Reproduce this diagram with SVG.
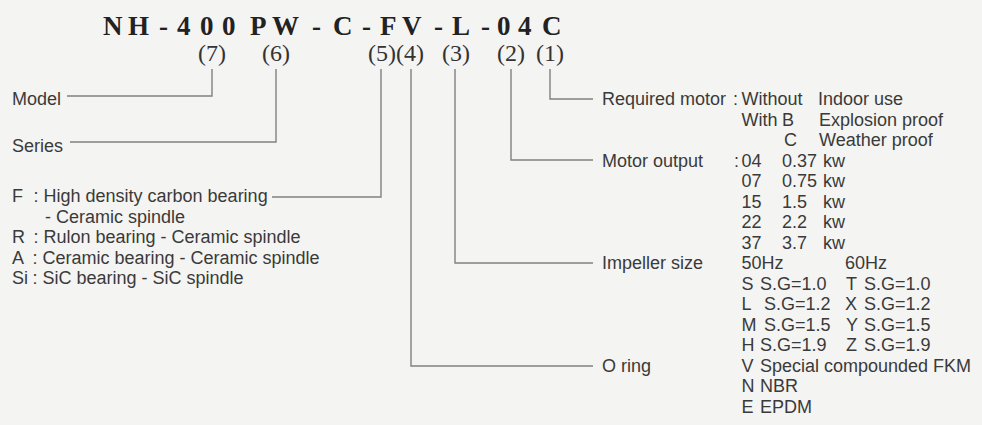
<svg xmlns="http://www.w3.org/2000/svg" width="982" height="425" viewBox="0 0 982 425">
<style>
.t{font-family:"Liberation Sans",Arial,sans-serif;font-size:18px;fill:#3a3a3a}
.code{font-family:"Liberation Serif","Times New Roman",serif;font-size:27px;font-weight:bold;fill:#222}
.num{font-family:"Liberation Serif","Times New Roman",serif;font-size:24px;fill:#333;text-anchor:middle}
.ln{fill:none;stroke:#808080;stroke-width:1.4}
</style>
<rect width="982" height="425" fill="#f4f4f2"/>
<g id="title">
<text class="code" y="35" x="103 123 128 150 159 168 177 192 200 214 222 237 250 267 272 302 312 322 333 353 362 371 380 396 402 423 434 443 452 468 481 490 497 511 518 532 542">N H - 4 0 0 P W - C - F V - L - 0 4 C</text>
</g>
<g id="position-numbers">
<text class="num" x="212" y="61">(7)</text>
<text class="num" x="276" y="61">(6)</text>
<text class="num" x="396" y="61">(5)(4)</text>
<text class="num" x="456" y="61">(3)</text>
<text class="num" x="511" y="61">(2)</text>
<text class="num" x="550" y="61">(1)</text>
</g>
<g id="connectors">
<polyline class="ln" points="212,69 212,96 67,96"/>
<polyline class="ln" points="276,69 276,142 70,142"/>
<polyline class="ln" points="381,69 381,197 272,197"/>
<polyline class="ln" points="411,69 411,366 593,366"/>
<polyline class="ln" points="455,69 455,263 593,263"/>
<polyline class="ln" points="511,69 511,160 593,160"/>
<polyline class="ln" points="550,69 550,99 593,99"/>
</g>
<g id="model"><text class="t" x="12" y="105">Model</text></g>
<g id="series"><text class="t" x="12" y="152">Series</text></g>
<g id="bearing">
<text class="t" y="202"><tspan x="12">F </tspan><tspan x="33.5">: High density carbon bearing</tspan></text>
<text class="t" x="45" y="222.5">- Ceramic spindle</text>
<text class="t" y="243"><tspan x="12">R </tspan><tspan x="33.5">: Rulon bearing - Ceramic spindle</tspan></text>
<text class="t" y="263.5"><tspan x="12">A </tspan><tspan x="32.5">: Ceramic bearing - Ceramic spindle</tspan></text>
<text class="t" y="284"><tspan x="12">Si </tspan><tspan x="32.5">: SiC bearing - SiC spindle</tspan></text>
</g>
<g id="required-motor">
<text class="t" y="105"><tspan x="602">Required motor </tspan><tspan x="733">: </tspan><tspan x="741.5">Without </tspan><tspan x="818">Indoor use</tspan></text>
<text class="t" y="125.5"><tspan x="741.5">With </tspan><tspan x="782">B </tspan><tspan x="819">Explosion proof</tspan></text>
<text class="t" y="146"><tspan x="784">C </tspan><tspan x="819">Weather proof</tspan></text>
</g>
<g id="motor-output">
<text class="t" y="166.6"><tspan x="602">Motor output </tspan><tspan x="734">:</tspan><tspan x="741.5">04 </tspan><tspan x="782">0.37 </tspan><tspan x="823">kw</tspan></text>
<text class="t" y="187.1"><tspan x="741.5">07 </tspan><tspan x="782">0.75 </tspan><tspan x="823">kw</tspan></text>
<text class="t" y="207.7"><tspan x="741.5">15 </tspan><tspan x="782">1.5 </tspan><tspan x="823">kw</tspan></text>
<text class="t" y="228.2"><tspan x="741.5">22 </tspan><tspan x="782">2.2 </tspan><tspan x="823">kw</tspan></text>
<text class="t" y="248.7"><tspan x="741.5">37 </tspan><tspan x="782">3.7 </tspan><tspan x="823">kw</tspan></text>
</g>
<g id="impeller-size">
<text class="t" y="269.2"><tspan x="602">Impeller size </tspan><tspan x="741.5">50Hz </tspan><tspan x="845">60Hz</tspan></text>
<text class="t" y="289.8"><tspan x="741.5">S </tspan><tspan x="760">S.G=1.0 </tspan><tspan x="846">T </tspan><tspan x="864">S.G=1.0</tspan></text>
<text class="t" y="310.3"><tspan x="741.5">L </tspan><tspan x="764">S.G=1.2 </tspan><tspan x="845">X </tspan><tspan x="864">S.G=1.2</tspan></text>
<text class="t" y="330.8"><tspan x="741.5">M </tspan><tspan x="764">S.G=1.5 </tspan><tspan x="846">Y </tspan><tspan x="864">S.G=1.5</tspan></text>
<text class="t" y="351.4"><tspan x="741.5">H </tspan><tspan x="760">S.G=1.9 </tspan><tspan x="846">Z </tspan><tspan x="864">S.G=1.9</tspan></text>
</g>
<g id="o-ring">
<text class="t" y="371.9"><tspan x="602">O ring </tspan><tspan x="741.5">V </tspan><tspan x="760">Special compounded FKM</tspan></text>
<text class="t" y="392.4"><tspan x="741.5">N </tspan><tspan x="760">NBR</tspan></text>
<text class="t" y="413"><tspan x="741.5">E </tspan><tspan x="760">EPDM</tspan></text>
</g>
</svg>
